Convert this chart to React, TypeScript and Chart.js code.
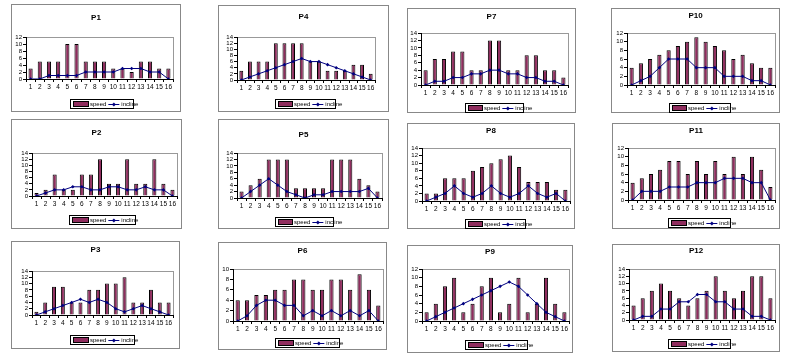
import React, { useEffect, useRef } from 'react';
import { Chart, registerables } from 'chart.js';

Chart.register(...registerables);

const FONT = '"Liberation Sans", Arial, sans-serif';

const categories = ['1', '2', '3', '4', '5', '6', '7', '8', '9', '10', '11', '12', '13', '14', '15', '16'];

const p1Speed = [3, 5, 5, 5, 10, 10, 5, 5, 5, 3, 3, 2, 5, 5, 3, 3];
const p1Incline = [0, 0, 1, 1, 1, 1, 2, 2, 2, 2, 3, 3, 3, 2, 2, 0];
const p2Speed = [1, 2, 7, 2, 2, 7, 7, 12, 4, 4, 12, 4, 4, 12, 4, 2];
const p2Incline = [0, 1, 2, 2, 3, 3, 2, 2, 3, 3, 2, 2, 3, 2, 2, 0];
const p3Speed = [1, 4, 9, 9, 4, 4, 8, 8, 10, 10, 12, 4, 4, 8, 4, 4];
const p3Incline = [0, 1, 2, 3, 4, 5, 4, 5, 4, 2, 1, 2, 3, 2, 1, 0];
const p4Speed = [3, 6, 6, 6, 12, 12, 12, 12, 6, 6, 3, 3, 3, 5, 5, 2];
const p4Incline = [0, 1, 2, 3, 4, 5, 6, 7, 6, 6, 5, 4, 3, 2, 1, 0];
const p5Speed = [2, 4, 6, 12, 12, 12, 3, 3, 3, 3, 12, 12, 12, 6, 4, 2];
const p5Incline = [0, 2, 4, 6, 4, 2, 1, 0, 1, 1, 2, 2, 2, 2, 3, 0];
const p6Speed = [4, 4, 5, 5, 6, 6, 8, 8, 6, 6, 8, 8, 6, 9, 6, 3];
const p6Incline = [0, 1, 3, 4, 4, 3, 3, 1, 2, 1, 2, 1, 2, 1, 2, 0];
const p7Speed = [4, 7, 7, 9, 9, 4, 4, 12, 12, 4, 4, 8, 8, 4, 4, 2];
const p7Incline = [0, 1, 1, 2, 2, 3, 3, 4, 4, 3, 3, 2, 2, 1, 1, 0];
const p8Speed = [2, 2, 6, 6, 6, 8, 9, 10, 11, 12, 9, 5, 5, 5, 3, 3];
const p8Incline = [0, 1, 2, 4, 2, 1, 2, 4, 2, 1, 2, 4, 2, 1, 2, 0];
const p9Speed = [2, 4, 8, 10, 2, 4, 8, 10, 2, 4, 10, 2, 4, 10, 4, 2];
const p9Incline = [0, 1, 2, 3, 4, 5, 6, 7, 8, 9, 8, 6, 4, 2, 1, 0];
const p10Speed = [4, 5, 6, 7, 8, 9, 10, 11, 10, 9, 8, 6, 7, 5, 4, 4];
const p10Incline = [0, 1, 2, 4, 6, 6, 6, 4, 4, 4, 2, 2, 2, 1, 1, 0];
const p11Speed = [4, 5, 6, 7, 9, 9, 6, 9, 6, 9, 6, 10, 6, 10, 7, 3];
const p11Incline = [0, 2, 2, 2, 3, 3, 3, 4, 4, 4, 5, 5, 5, 4, 4, 0];
const p12Speed = [4, 6, 8, 10, 8, 6, 4, 6, 8, 12, 8, 6, 8, 12, 12, 6];
const p12Incline = [0, 1, 1, 3, 3, 5, 5, 7, 7, 5, 5, 3, 3, 1, 1, 0];

const panelTitles = ['P1', 'P4', 'P7', 'P10', 'P2', 'P5', 'P8', 'P11', 'P3', 'P6', 'P9', 'P12'];
const speedSeries = [p1Speed, p4Speed, p7Speed, p10Speed, p2Speed, p5Speed, p8Speed, p11Speed, p3Speed, p6Speed, p9Speed, p12Speed];
const inclineSeries = [p1Incline, p4Incline, p7Incline, p10Incline, p2Incline, p5Incline, p8Incline, p11Incline, p3Incline, p6Incline, p9Incline, p12Incline];
const yMaxes = [12, 14, 14, 12, 14, 14, 14, 12, 14, 10, 12, 14];

// geometry (page px): box, plot area, title y, legend
const layouts = [
  { bx: 11, by: 4, bw: 170, bh: 108, pl: 26, pr: 173, pt: 37, pb: 79, ty: 18, lx1: 70, lx2: 133, ly: 104 },
  { bx: 218, by: 5, bw: 171, bh: 107, pl: 237, pr: 375, pt: 37, pb: 80, ty: 17, lx1: 275, lx2: 335, ly: 104 },
  { bx: 407, by: 8, bw: 169, bh: 105, pl: 421, pr: 568, pt: 33, pb: 85, ty: 17, lx1: 465, lx2: 523, ly: 108 },
  { bx: 611, by: 8, bw: 169, bh: 105, pl: 627, pr: 775, pt: 33, pb: 85, ty: 16, lx1: 669, lx2: 730, ly: 108 },
  { bx: 11, by: 119, bw: 171, bh: 110, pl: 32, pr: 177, pt: 153, pb: 196, ty: 133, lx1: 69, lx2: 135, ly: 220 },
  { bx: 218, by: 119, bw: 171, bh: 110, pl: 237, pr: 382, pt: 153, pb: 198, ty: 135, lx1: 275, lx2: 333, ly: 222 },
  { bx: 407, by: 123, bw: 168, bh: 106, pl: 422, pr: 570, pt: 148, pb: 201, ty: 131, lx1: 465, lx2: 525, ly: 224 },
  { bx: 612, by: 123, bw: 168, bh: 106, pl: 628, pr: 775, pt: 148, pb: 200, ty: 131, lx1: 668, lx2: 730, ly: 223 },
  { bx: 11, by: 241, bw: 169, bh: 108, pl: 32, pr: 173, pt: 271, pb: 315, ty: 250, lx1: 70, lx2: 134, ly: 340 },
  { bx: 218, by: 242, bw: 169, bh: 108, pl: 233, pr: 385, pt: 269, pb: 321, ty: 251, lx1: 275, lx2: 339, ly: 343 },
  { bx: 407, by: 245, bw: 166, bh: 108, pl: 422, pr: 570, pt: 269, pb: 321, ty: 252, lx1: 465, lx2: 527, ly: 345 },
  { bx: 612, by: 244, bw: 168, bh: 108, pl: 629, pr: 775, pt: 269, pb: 320, ty: 251, lx1: 668, lx2: 730, ly: 344 },
];

const BAR_COLOR = '#8f2d5e';
const LINE_COLOR = '#000080';
const XH = 12;

function makeDecor(title: string, g: any) {
  return {
    id: 'decor',
    beforeDraw(chart: any) {
      const ctx = chart.ctx;
      const a = chart.chartArea;
      ctx.save();
      ctx.strokeStyle = '#888888';
      ctx.lineWidth = 1;
      ctx.strokeRect(0.5, 0.5, g.bw - 1, g.bh - 1);
      ctx.strokeStyle = '#999999';
      ctx.strokeRect(Math.round(a.left) + 0.5, Math.round(a.top) + 0.5, Math.round(a.right - a.left), Math.round(a.bottom - a.top));
      ctx.restore();
    },
    afterDraw(chart: any) {
      const ctx = chart.ctx;
      ctx.save();
      // title
      ctx.fillStyle = '#000';
      ctx.font = 'bold 8px ' + FONT;
      ctx.textAlign = 'center';
      ctx.textBaseline = 'middle';
      ctx.fillText(title, g.bw / 2, g.ty - g.by);
      // legend
      const x1 = g.lx1 - g.bx;
      const x2 = g.lx2 - g.bx;
      const ly = g.ly - g.by;
      ctx.strokeStyle = '#000';
      ctx.lineWidth = 1;
      ctx.strokeRect(x1 + 0.5, ly - 4.5, x2 - x1, 9);
      const sw = Math.round((x2 - x1) * 0.25);
      ctx.fillStyle = BAR_COLOR;
      ctx.fillRect(x1 + 3, ly - 2, sw, 4);
      ctx.strokeRect(x1 + 3.5, ly - 2.5, sw - 1, 5);
      ctx.font = '6px ' + FONT;
      ctx.textAlign = 'left';
      ctx.fillStyle = '#000';
      const tx = x1 + 4 + sw;
      ctx.fillText('speed', tx, ly + 0.5);
      const tw = ctx.measureText('speed').width;
      const lx = tx + tw + 2;
      const ll = 11;
      ctx.strokeStyle = LINE_COLOR;
      ctx.beginPath();
      ctx.moveTo(lx, ly + 0.5);
      ctx.lineTo(lx + ll, ly + 0.5);
      ctx.stroke();
      ctx.fillStyle = LINE_COLOR;
      ctx.beginPath();
      const cx = lx + ll / 2;
      ctx.moveTo(cx, ly - 1.5);
      ctx.lineTo(cx + 2, ly + 0.5);
      ctx.lineTo(cx, ly + 2.5);
      ctx.lineTo(cx - 2, ly + 0.5);
      ctx.closePath();
      ctx.fill();
      ctx.fillStyle = '#000';
      ctx.fillText('incline', lx + ll + 2, ly + 0.5);
      ctx.restore();
    },
  };
}

function Panel({ idx }: { idx: number }) {
  const ref = useRef<HTMLCanvasElement | null>(null);
  const g = layouts[idx];
  useEffect(() => {
    if (!ref.current) return;
    const chart = new Chart(ref.current, {
      type: 'bar',
      data: {
        labels: categories,
        datasets: [
          {
            type: 'line',
            label: 'incline',
            data: inclineSeries[idx],
            borderColor: LINE_COLOR,
            backgroundColor: LINE_COLOR,
            borderWidth: 1,
            pointStyle: 'rectRot',
            pointRadius: 1.8,
            pointBackgroundColor: LINE_COLOR,
            pointBorderColor: LINE_COLOR,
            pointBorderWidth: 0,
            tension: 0,
            order: 1,
          } as any,
          {
            type: 'bar',
            label: 'speed',
            data: speedSeries[idx],
            backgroundColor: BAR_COLOR,
            borderColor: '#000',
            borderWidth: 1,
            barPercentage: 0.45,
            categoryPercentage: 1,
            order: 2,
          } as any,
        ],
      },
      options: {
        responsive: false,
        maintainAspectRatio: false,
        animation: false,
        events: [],
        layout: {
          padding: {
            left: 0,
            right: g.bx + g.bw - g.pr,
            top: g.pt - g.by,
            bottom: g.by + g.bh - g.pb - XH,
          },
        },
        plugins: {
          legend: { display: false },
          title: { display: false },
          tooltip: { enabled: false },
        },
        scales: {
          x: {
            grid: { display: true, offset: true, drawOnChartArea: false, drawTicks: true, tickLength: 3, color: '#000' },
            border: { display: true, color: '#000' },
            ticks: { font: { size: 6.5, family: FONT }, color: '#000', padding: 1, maxRotation: 0, autoSkip: false },
            afterFit: (s: any) => { s.height = XH; },
          },
          y: {
            min: 0,
            max: yMaxes[idx],
            grid: { display: true, drawOnChartArea: false, drawTicks: true, tickLength: 3, color: '#000' },
            border: { display: true, color: '#000' },
            ticks: { stepSize: 2, autoSkip: false, font: { size: 6, family: FONT }, color: '#000', padding: 1 },
            afterFit: (s: any) => { s.width = g.pl - g.bx; },
          },
        },
      },
      plugins: [makeDecor(panelTitles[idx], g)],
    } as any);
    return () => chart.destroy();
  }, [idx]);
  return (
    <canvas
      ref={ref}
      width={g.bw}
      height={g.bh}
      style={{ position: 'absolute', left: g.bx, top: g.by, width: g.bw, height: g.bh }}
    />
  );
}

export default function App() {
  return (
    <div style={{ position: 'fixed', left: 0, top: 0, width: 800, height: 359, background: '#fff', overflow: 'hidden' }}>
      {layouts.map((_, i) => (
        <Panel key={i} idx={i} />
      ))}
    </div>
  );
}
